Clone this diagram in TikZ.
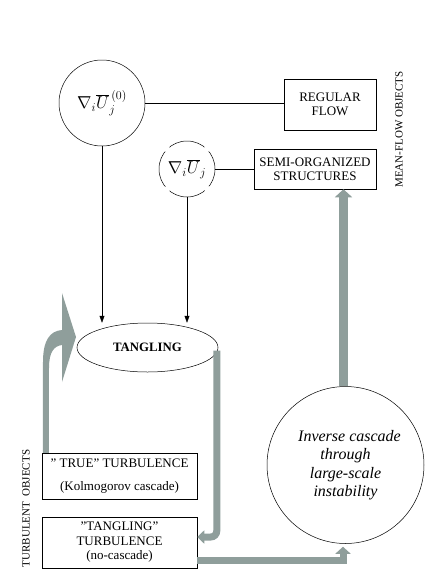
\documentclass[tikz,border=0pt]{standalone}
\usepackage{fontspec}
\setmainfont{Liberation Serif}
\usetikzlibrary{arrows.meta,shapes.geometric,calc}
\definecolor{arrowgray}{RGB}{143,158,155}
\begin{document}
\begin{tikzpicture}[x=1pt,y=-1pt,
  boxtext/.style={font=\fontsize{13}{13.8}\selectfont, align=center},
  rectbox/.style={draw, rectangle, inner sep=0pt, boxtext},
  thinarrow/.style={-{Triangle[length=7pt,width=5pt]}, line width=0.5pt},
  thinline/.style={line width=0.5pt},
  grayarrow/.style={draw=arrowgray, line width=8pt, -{Triangle[length=8pt,width=17pt]}},
  sidelabel/.style={rotate=90, font=\fontsize{11}{12}\selectfont, inner sep=0pt}
]
\useasboundingbox (0,0) rectangle (436,576);

% mean-flow objects
\node[draw, circle, minimum size=86pt, inner sep=0pt, line width=0.5pt,
      font=\fontsize{18}{20}\selectfont] (c0) at (102,103)
      {$\nabla_{i}\overline{U}_{j}^{\,(0)}$};
\node[rectbox, minimum width=92pt, minimum height=51pt, line width=0.5pt] (rf) at (330,104.5)
      {REGULAR\\FLOW};
\node[draw, circle, minimum size=56pt, inner sep=0pt, line width=0.5pt,
      dash pattern=on 38pt off 6pt, dash phase=19pt,
      font=\fontsize{18}{20}\selectfont] (c1) at (187,169)
      {$\nabla_{i}\overline{U}_{j}$};
\node[rectbox, minimum width=122pt, minimum height=40pt, line width=0.5pt] (so) at (315,169)
      {SEMI-ORGANIZED\\STRUCTURES};
\node[sidelabel] (mf) at (399,129.5) {MEAN-FLOW OBJECTS};

% tangling
\node[draw, ellipse, minimum width=141pt, minimum height=49pt, inner sep=0pt, line width=0.5pt,
      font=\bfseries\fontsize{12.8}{14}\selectfont] (tg) at (147.5,347.5) {TANGLING};

% turbulent objects
\node[rectbox, minimum width=155pt, minimum height=46pt, line width=0.5pt] (tt) at (119.5,476)
      {” TRUE” TURBULENCE\\[10pt](Kolmogorov cascade)};
\node[rectbox, minimum width=155pt, minimum height=51pt, line width=0.5pt,
      font=\fontsize{13}{14.5}\selectfont] (tgt) at (119.5,542.5)
      {”TANGLING”\\TURBULENCE\\(no-cascade)};
\node[sidelabel] (to) at (26,508.5) {TURBULENT\ \ OBJECTS};

% inverse cascade
\node[draw, circle, minimum size=157pt, inner sep=0pt, line width=0.5pt,
      font=\itshape\fontsize{16}{18.4}\selectfont, align=center] (ic) at (345.5,465)
      {\hspace*{8pt}Inverse cascade\\through\\large-scale\\instability};

% thin connectors
\draw[thinline] (c0.east) -- (c0.east -| rf.west);
\draw[thinline] (c1.east) -- (c1.east -| so.west);
\draw[thinarrow] (c0.south) -- (c0.south |- tg.north);
\draw[thinarrow] (c1.south) -- (c1.south |- tg.north);

% gray arrows
\coordinate (a2s) at ($(tg.east)+(-1.5,3)$);
\coordinate (a2e) at ($(tgt.east)+(0,-5.5)$);
\draw[grayarrow, line width=7pt, -{Triangle[length=7pt,width=13pt]}, rounded corners=6pt]
  (a2s) |- (a2e);
\coordinate (a3s) at ($(tgt.south east)+(0,-8)$);
\coordinate (a3e) at ($(ic.south)+(-2.5,3)$);
\draw[grayarrow, line width=7pt, -{Triangle[length=7pt,width=15pt]}] (a3s) -| (a3e);
\coordinate (a4s) at ($(ic.north)+(-2,0)$);
\draw[grayarrow, line width=9pt] (a4s) -- (a4s |- so.south);

% curved left arrow (true turbulence -> tangling)
\fill[arrowgray] ($(tt.north west)+(1,0)$) -- (43,362)
  .. controls (43,340) and (50,331) .. (62,330)
  -- (62,293) -- (76,337) -- (62,382) -- (62,345)
  .. controls (54,346) and (49,352) .. (49,368)
  -- ($(tt.north west)+(7,0)$) -- cycle;
\end{tikzpicture}
\end{document}
